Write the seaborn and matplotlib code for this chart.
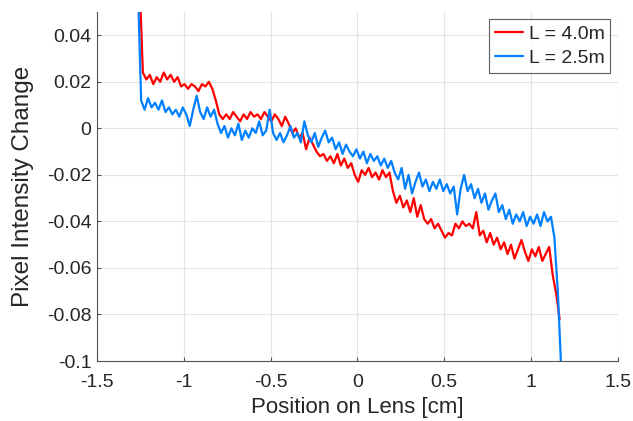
import numpy as np
import pandas as pd
import matplotlib
matplotlib.use('Agg')
import matplotlib.pyplot as plt
from matplotlib.ticker import FuncFormatter
import seaborn as sns

red_values = [
    0.065, 0.024, 0.021, 0.023, 0.019, 0.022, 0.020, 0.024, 0.021, 0.023,
    0.020, 0.022, 0.018, 0.019, 0.017, 0.019, 0.018, 0.016, 0.019, 0.018,
    0.020, 0.017, 0.012, 0.006, 0.004, 0.006, 0.004, 0.007, 0.005, 0.003,
    0.006, 0.004, 0.007, 0.005, 0.006, 0.004, 0.007, 0.005, 0.003, 0.006,
    0.004, 0.001, 0.005, 0.002, -0.002, 0.000, -0.004, -0.002, -0.009, -0.004,
    -0.007, -0.010, -0.012, -0.011, -0.014, -0.012, -0.015, -0.011, -0.016, -0.013,
    -0.017, -0.015, -0.020, -0.023, -0.018, -0.020, -0.017, -0.021, -0.019, -0.022,
    -0.018, -0.021, -0.019, -0.027, -0.032, -0.029, -0.034, -0.031, -0.036, -0.030,
    -0.038, -0.033, -0.039, -0.041, -0.039, -0.043, -0.041, -0.044, -0.047, -0.045,
    -0.046, -0.041, -0.043, -0.040, -0.042, -0.041, -0.043, -0.036, -0.046, -0.044,
    -0.049, -0.045, -0.050, -0.047, -0.052, -0.049, -0.054, -0.050, -0.056, -0.052,
    -0.048, -0.053, -0.057, -0.052, -0.055, -0.051, -0.057, -0.054, -0.051, -0.063,
    -0.071, -0.082,
]
blue_values = [
    0.065, 0.012, 0.008, 0.013, 0.009, 0.011, 0.008, 0.012, 0.007, 0.009,
    0.006, 0.008, 0.005, 0.009, 0.006, 0.001, 0.008, 0.014, 0.007, 0.004,
    0.009, 0.005, 0.008, 0.002, -0.002, 0.001, -0.004, 0.000, -0.003, 0.002,
    -0.005, -0.001, -0.004, 0.000, -0.002, 0.003, -0.003, -0.001, 0.008, -0.002,
    -0.005, -0.002, -0.006, -0.003, 0.001, -0.004, -0.002, -0.006, 0.003, -0.003,
    -0.006, -0.002, -0.008, -0.004, -0.001, -0.006, -0.004, -0.009, -0.006, -0.011,
    -0.007, -0.010, -0.012, -0.009, -0.013, -0.010, -0.015, -0.011, -0.014, -0.012,
    -0.016, -0.013, -0.017, -0.014, -0.019, -0.022, -0.017, -0.026, -0.020, -0.028,
    -0.023, -0.019, -0.025, -0.022, -0.027, -0.023, -0.026, -0.022, -0.027, -0.024,
    -0.028, -0.025, -0.037, -0.026, -0.020, -0.027, -0.024, -0.030, -0.026, -0.032,
    -0.028, -0.035, -0.031, -0.028, -0.036, -0.033, -0.039, -0.035, -0.041, -0.037,
    -0.040, -0.036, -0.042, -0.038, -0.041, -0.037, -0.042, -0.036, -0.040, -0.038,
    -0.047, -0.071, -0.105,
]
red_span = (-1.255, 1.165)
blue_span = (-1.265, 1.175)
labels = ['L = 4.0m', 'L = 2.5m']
colors = ['#FF0000', '#0080FF']

red_df = pd.DataFrame({'pos': np.linspace(*red_span, len(red_values)), 'val': red_values})
blue_df = pd.DataFrame({'pos': np.linspace(*blue_span, len(blue_values)), 'val': blue_values})

sns.set_style('whitegrid')
plt.rcParams['font.family'] = ['Liberation Sans', 'DejaVu Sans']

fig = plt.figure(figsize=(6.33, 4.21), dpi=100)
ax = fig.add_axes([0.153, 0.1425, 0.823, 0.829])

sns.lineplot(data=red_df, x='pos', y='val', color=colors[0], label=labels[0],
             sort=False, estimator=None, linewidth=1.6, ax=ax)
sns.lineplot(data=blue_df, x='pos', y='val', color=colors[1], label=labels[1],
             sort=False, estimator=None, linewidth=1.6, ax=ax)

ax.set_xlim(-1.5, 1.5)
ax.set_ylim(-0.1, 0.05)
ax.set_xticks(np.arange(-1.5, 1.51, 0.5))
ax.set_yticks([-0.1, -0.08, -0.06, -0.04, -0.02, 0, 0.02, 0.04])
ax.xaxis.set_major_formatter(FuncFormatter(lambda v, p: f'{v:g}'))
ax.yaxis.set_major_formatter(FuncFormatter(lambda v, p: f'{round(v, 3):g}'))
ax.tick_params(axis='both', labelsize=14, direction='in', length=3, color='#555555',
               bottom=True, left=True)
ax.tick_params(axis='x', pad=9)
ax.tick_params(axis='y', pad=4)
ax.grid(True, color='#e3e3e3', linewidth=0.8)
for side in ['left', 'bottom']:
    ax.spines[side].set_color('#555555')
    ax.spines[side].set_linewidth(0.8)
for side in ['top', 'right']:
    ax.spines[side].set_visible(False)

ax.set_xlabel('Position on Lens [cm]', fontsize=16, labelpad=5)
ax.set_ylabel('Pixel Intensity Change', fontsize=17.5, labelpad=9)

leg = ax.legend(loc='upper right', fontsize=14, frameon=True, fancybox=False,
                handlelength=1.45, handletextpad=0.3, borderpad=0.3, labelspacing=0.34,
                borderaxespad=0.38)
leg.get_frame().set_edgecolor('#333333')
leg.get_frame().set_linewidth(0.8)

fig.savefig('out.png', dpi=100)
